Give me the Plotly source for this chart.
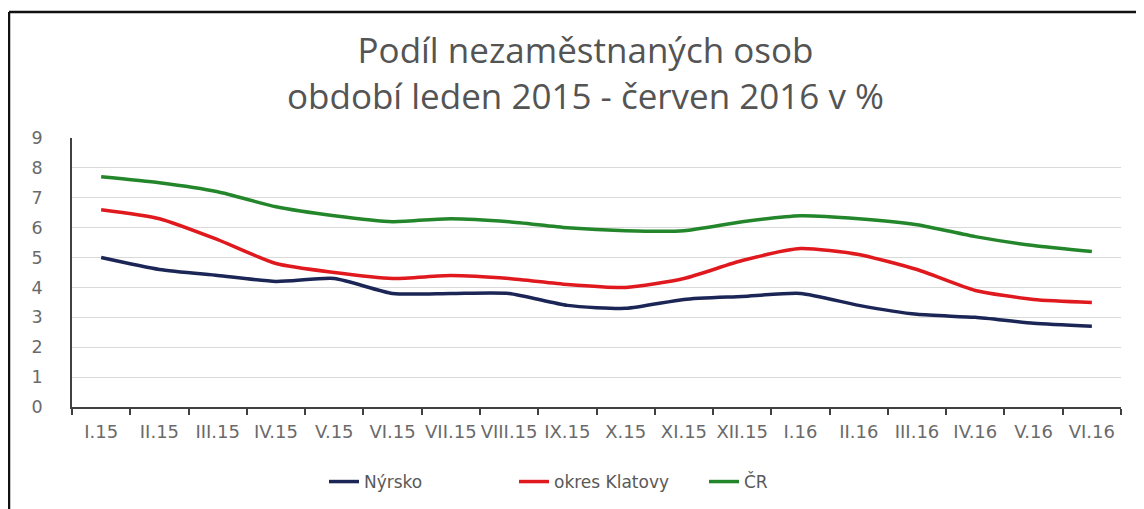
import plotly.graph_objects as go

categories = ["I.15", "II.15", "III.15", "IV.15", "V.15", "VI.15", "VII.15", "VIII.15", "IX.15",
              "X.15", "XI.15", "XII.15", "I.16", "II.16", "III.16", "IV.16", "V.16", "VI.16"]
nyrsko = [5.0, 4.6, 4.4, 4.2, 4.3, 3.8, 3.8, 3.8, 3.4, 3.3, 3.6, 3.7, 3.8, 3.4, 3.1, 3.0, 2.8, 2.7]
klatovy = [6.6, 6.3, 5.6, 4.8, 4.5, 4.3, 4.4, 4.3, 4.1, 4.0, 4.3, 4.9, 5.3, 5.1, 4.6, 3.9, 3.6, 3.5]
cr = [7.7, 7.5, 7.2, 6.7, 6.4, 6.2, 6.3, 6.2, 6.0, 5.9, 5.9, 6.2, 6.4, 6.3, 6.1, 5.7, 5.4, 5.2]
series_names = ["Nýrsko", "okres Klatovy", "ČR"]
y_ticks = list(range(0, 10))
title_lines = ["Podíl nezaměstnaných osob", "období leden 2015 - červen 2016 v %"]

colors = ["#1B2656", "#E0191E", "#24862B"]

fig = go.Figure()
for name, vals, col in zip(series_names, [nyrsko, klatovy, cr], colors):
    fig.add_trace(go.Scatter(
        x=categories, y=vals, name=name, mode="lines",
        line=dict(color=col, width=3.5, shape="spline", smoothing=0.6),
    ))

OFF = 8  # page body margin
W, H = 1144 - OFF, 509 - OFF
# plot area in screenshot pixels: x 72..1121, y 138..407
L = 72 - OFF
T = 138 - OFF
pw = 1121 - 72
ph = 407 - 138
R = W - L - pw
B = H - T - ph

def px(xs):  # screenshot x -> paper
    return (xs - 72) / pw

def py(ys):  # screenshot y -> paper
    return (407 - ys) / ph

fig.update_layout(
    width=W, height=H,
    margin=dict(l=L, r=R, t=T, b=B, autoexpand=False),
    paper_bgcolor="white", plot_bgcolor="white",
    font=dict(family="DejaVu Sans", color="#595959"),
    showlegend=True,
    legend=dict(orientation="h", x=px(324), xanchor="left", y=py(482), yanchor="middle",
                font=dict(size=17, color="#595959"), tracegroupgap=0,
                entrywidth=145, entrywidthmode="pixels"),
    xaxis=dict(type="category", showgrid=False, showline=True, linecolor="#404040", linewidth=1.5,
               ticks="outside", tickson="boundaries", ticklen=6, tickcolor="#404040", tickwidth=1.5,
               tickangle=0, tickfont=dict(size=18, color="#6A6A6A", family="DejaVu Sans"),
               ticklabelstandoff=8,
               range=[-0.5, len(categories) - 0.5]),
    yaxis=dict(range=[0, 9], tickvals=y_ticks, showgrid=True, gridcolor="#D9D9D9", gridwidth=1,
               showline=True, linecolor="#404040", linewidth=1.5, zeroline=False,
               tickfont=dict(size=17.5, color="#6A6A6A", family="DejaVu Sans"),
               ticklabelstandoff=24),
)

fig.add_annotation(text="<br>".join(title_lines), xref="paper", yref="paper",
                   x=px(585), y=py(72), xanchor="center", yanchor="middle", showarrow=False,
                   align="center", font=dict(size=35, color="#545454", family="Open Sans"))

# frame lines (top and left)
fig.add_shape(type="line", xref="paper", yref="paper", x0=px(9), x1=px(1150), y0=py(12), y1=py(12),
              line=dict(color="#111111", width=2.5))
fig.add_shape(type="line", xref="paper", yref="paper", x0=px(9), x1=px(9), y0=py(12), y1=py(520),
              line=dict(color="#111111", width=2.5))

fig.write_html("out.html")
